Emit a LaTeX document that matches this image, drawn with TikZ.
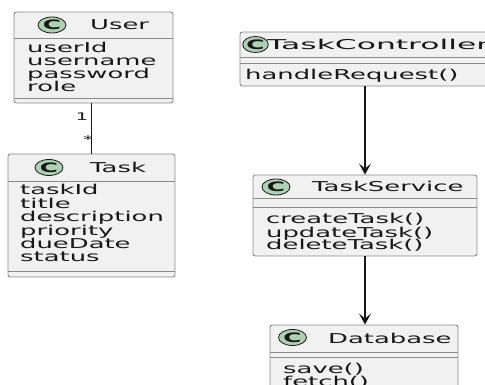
\documentclass[tikz,border=0pt]{standalone}
\usepackage{fontspec}
\setmainfont{DejaVu Sans}[FakeStretch=1.9]
\usetikzlibrary{arrows.meta,shapes.geometric}
\definecolor{boxfill}{HTML}{F1F1F1}
\definecolor{boxline}{HTML}{8A8A8A}
\definecolor{ink}{HTML}{181818}
\definecolor{cfill}{HTML}{ADD1B2}
\tikzset{
  classbox/.style={draw=boxline, fill=boxfill, line width=0.9pt, rounded corners=2.5pt, inner sep=0pt},
  sepline/.style={draw=boxline, line width=0.9pt},
  txt/.style={anchor=base west, inner sep=0pt, font=\fontsize{13.6}{13.6}\selectfont, text=ink},
  cmark/.style={ellipse, draw=ink, fill=cfill, line width=0.8pt, minimum width=28pt, minimum height=16pt, inner sep=0pt, font=\fontsize{13}{13}\selectfont\bfseries, text=ink},
  lbl/.style={inner sep=0pt, font=\fontsize{10.5}{10.5}\selectfont, text=ink},
  link/.style={draw=ink, line width=1.1pt},
  arr/.style={draw=ink, line width=1.1pt, -{Stealth[length=11pt, width=12pt, inset=5pt]}}
}
\begin{document}
\begin{tikzpicture}[x=1pt, y=-1pt]
\useasboundingbox (0,0) rectangle (485,385);
\clip (0,0) rectangle (485,385);
\fill[white] (0,0) rectangle (485,385);

% ---- User
\node[classbox, minimum width=159pt, minimum height=91pt] (user) at (93.5,57.5) {};
\draw[sepline] (user.west |- 0,38) -- (user.east |- 0,38);
\draw[sepline] (user.west |- 0,98) -- (user.east |- 0,98);
\node[cmark] (userc) at (52,25) {C};
\node[txt] (usern) at (90,29.5) {User};
\foreach \t [count=\i] in {userId,username,password,role}
  \node[txt] (ua\i) at (27,{40+13*\i}) {\t};

% ---- Task
\node[classbox, minimum width=167pt, minimum height=123pt] (task) at (91.5,215.5) {};
\draw[sepline] (task.west |- 0,181) -- (task.east |- 0,181);
\draw[sepline] (task.west |- 0,271) -- (task.east |- 0,271);
\node[cmark] (taskc) at (49,167.5) {C};
\node[txt] (taskn) at (90,172.5) {Task};
\foreach \t [count=\i] in {taskId,title,description,priority,dueDate,status}
  \node[txt] (ta\i) at (20,{181.6+13.4*\i}) {\t};

% ---- TaskController
\node[classbox, minimum width=252pt, minimum height=54pt] (tc) at (366,59) {};
\draw[sepline] (tc.west |- 0,57) -- (tc.east |- 0,57);
\draw[sepline] (tc.west |- 0,63) -- (tc.east |- 0,63);
\node[cmark, minimum width=22pt] (tcc) at (255.5,44.5) {C};
\node[txt] (tcn) at (267,49.5) {\resizebox{222pt}{\height}{TaskController}};
\node[txt] (tcm1) at (245,80) {handleRequest()};

% ---- TaskService
\node[classbox, minimum width=224pt, minimum height=81pt] (ts) at (365,215.5) {};
\draw[sepline] (ts.west |- 0,198) -- (ts.east |- 0,198);
\draw[sepline] (ts.west |- 0,207) -- (ts.east |- 0,207);
\node[cmark] (tsc) at (276,187) {C};
\node[txt] (tsn) at (312,192) {TaskService};
\foreach \t [count=\i] in {createTask(),updateTask(),deleteTask()}
  \node[txt] (tsm\i) at (266,{211+13*\i}) {\t};

% ---- Database
\node[classbox, minimum width=188pt, minimum height=80pt] (db) at (364,365) {};
\draw[sepline] (db.west |- 0,352) -- (db.east |- 0,352);
\draw[sepline] (db.west |- 0,357) -- (db.east |- 0,357);
\node[cmark] (dbc) at (292.5,337.5) {C};
\node[txt] (dbn) at (328,343) {Database};
\foreach \t [count=\i] in {save(),fetch()}
  \node[txt] (dbm\i) at (283,{360+13*\i}) {\t};

% ---- connectors
\draw[link] (task.north) -- (task.north |- user.south);
\node[lbl] (one) at (82,117) {1};
\node[lbl] (many) at (88,140) {*};
\draw[arr] (ts.north |- tc.south) -- (ts.north);
\draw[arr] (ts.south) -- (ts.south |- db.north);
\end{tikzpicture}
\end{document}
